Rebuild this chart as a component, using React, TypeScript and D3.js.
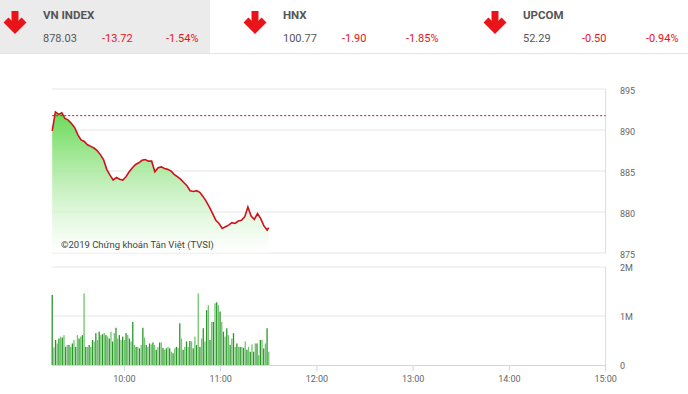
import React from "react";
import * as d3 from "d3";

// ---- data ----
const indexNames = ["VN INDEX", "HNX", "UPCOM"];
const indexValues = ["878.03", "100.77", "52.29"];
const indexChanges = ["-13.72", "-1.90", "-0.50"];
const indexPercents = ["-1.54%", "-1.85%", "-0.94%"];

const refValue = 891.75;
const priceStartMin = 9 * 60 + 15;
const priceStepMin = 2;
const priceValues = [
  889.9, 892.2, 891.9, 892.1, 891.4, 891.2, 890.8, 890.3, 889.4, 888.8,
  888.6, 888.2, 888.0, 887.8, 887.5, 887.0, 886.4, 885.2, 884.5, 883.9,
  884.2, 884.0, 883.9, 884.3, 884.9, 885.4, 885.8, 886.0, 886.3, 886.4,
  886.2, 886.2, 884.9, 885.4, 885.5, 885.3, 885.2, 885.0, 884.6, 884.3,
  884.0, 883.6, 883.2, 882.6, 882.5, 882.6, 882.4, 881.9, 881.3, 880.6,
  879.8, 879.0, 878.6, 878.0, 878.2, 878.4, 878.7, 878.6, 878.9, 879.0,
  879.4, 880.6, 879.5, 879.1, 879.8, 879.2, 878.3, 877.8, 878.1,
];
const priceEndMin = 11 * 60 + 30;

// volume in millions, one bar per interval from 9:15 to 11:30
const volumeValues = [
  1.43, 0.36, 0.51, 0.44, 0.54, 0.58, 0.56, 0.61, 0.37, 0.41, 0.41, 0.37, 0.44,
  0.51, 0.37, 0.61, 0.54, 0.58, 0.61, 1.46, 0.37, 0.37, 0.41, 0.37, 0.51, 0.48,
  0.65, 0.51, 0.68, 0.61, 0.63, 0.65, 0.61, 0.58, 0.54, 0.68, 0.48, 0.65, 0.76,
  0.54, 0.61, 0.51, 0.58,
  0.51, 0.65, 0.61, 0.54, 0.48, 0.88, 0.41, 0.37, 0.37, 0.34, 0.41, 0.76, 0.56,
  0.41, 0.37, 0.44, 0.42, 0.46, 0.41, 0.31, 0.37, 0.46, 0.46, 0.35, 0.31, 0.34,
  0.37, 0.34, 0.27, 0.24, 0.34, 0.37, 0.35, 0.85, 0.54, 0.31, 0.37, 0.48, 0.37,
  0.49, 0.48, 0.34, 0.58, 0.41,
  1.46, 0.37, 0.54, 0.75, 0.48, 1.12, 1.22, 0.51, 0.88, 0.88, 1.26, 1.28, 1.22,
  1.09, 0.88, 0.68, 0.58, 0.75, 0.61, 0.41, 0.54, 0.65, 0.37, 0.44, 0.37, 0.37,
  0.37, 0.35, 0.48, 0.31, 0.37, 0.27, 0.42, 0.27, 0.44, 0.44, 0.2, 0.51, 0.51,
  0.34, 0.44, 0.75, 0.27,
];

const priceTicks = [895, 890, 885, 880, 875];
const volumeTicks = [2, 1, 0];
const volumeTickLabels = ["2M", "1M", "0"];
const timeTicks = ["10:00", "11:00", "12:00", "13:00", "14:00", "15:00"];
const copyright = "©2019 Chứng khoán Tân Việt (TVSI)";

const toMin = (s: string) => {
  const [h, m] = s.split(":").map(Number);
  return h * 60 + m;
};

export default function App() {
  const W = 688;
  const H = 394;
  const left = 52.2;
  const right = 605.6;

  const x = d3.scaleLinear().domain([toMin("09:15"), toMin("15:00")]).range([left, right]);
  const yP = d3.scaleLinear().domain([875, 895]).range([253, 89]);
  const yV = d3.scaleLinear().domain([0, 2]).range([365, 267]);

  const pts = priceValues.map((v, i) => ({
    t: Math.min(priceStartMin + i * priceStepMin, priceEndMin),
    v,
  }));
  const line = d3.line<any>().x((d) => x(d.t)).y((d) => yP(d.v));
  const area = d3.area<any>().x((d) => x(d.t)).y0(yP(875)).y1((d) => yP(d.v));

  const n = volumeValues.length;
  const volT = (i: number) => priceStartMin + (i * (priceEndMin - priceStartMin)) / (n - 1);

  const font = "Roboto, 'Open Sans', Arial, sans-serif";
  const red = "#e8141a";
  const hdrX = [0, 240, 480];

  return (
    <svg
      width={W}
      height={H}
      style={{ position: "absolute", left: 0, top: 0, background: "#fff" }}
      fontFamily={font}
    >
      <defs>
        <linearGradient id="pg" x1="0" y1={yP(892)} x2="0" y2={yP(875)} gradientUnits="userSpaceOnUse">
          <stop offset="0" stopColor="#62d94f" stopOpacity={0.95} />
          <stop offset="0.45" stopColor="#a9e99e" stopOpacity={0.8} />
          <stop offset="1" stopColor="#ffffff" stopOpacity={0.6} />
        </linearGradient>
      </defs>

      {/* header */}
      <rect x={0} y={0} width={210} height={53} fill="#ebebeb" />
      <line x1={0} x2={W} y1={53.5} y2={53.5} stroke="#e3e3e3" />
      {indexNames.map((name, i) => {
        const bx = hdrX[i];
        const ax = bx + 15;
        return (
          <g key={name}>
            <g stroke={red} strokeWidth={7} fill="none" strokeLinejoin="miter">
              <line x1={ax} x2={ax} y1={11} y2={29} />
              <polyline points={`${ax - 9},${20} ${ax},${29} ${ax + 9},${20}`} />
            </g>
            <text x={bx + 43} y={19} fontSize={11.5} fontWeight="bold" fill="#555">
              {name}
            </text>
            <text x={bx + 43} y={42} fontSize={11} fill="#555">
              {indexValues[i]}
            </text>
            <text x={bx + 102} y={42} fontSize={11} fill={red}>
              {indexChanges[i]}
            </text>
            <text x={bx + 166} y={42} fontSize={11} fill={red}>
              {indexPercents[i]}
            </text>
          </g>
        );
      })}

      {/* price panel grid */}
      {priceTicks.map((t) => (
        <g key={t}>
          <line x1={left} x2={right} y1={yP(t)} y2={yP(t)} stroke="#e6e6e6" />
          <text x={620} y={yP(t) + 5} fontSize={9} fill="#666">
            {t}
          </text>
        </g>
      ))}
      <line x1={right} x2={right} y1={yP(895)} y2={yP(875)} stroke="#d4dce6" />

      <path d={area(pts) || ""} fill="url(#pg)" />
      <text x={61} y={248} fontSize={9.5} fill="#444">
        {copyright}
      </text>
      <line
        x1={left}
        x2={right}
        y1={yP(refValue)}
        y2={yP(refValue)}
        stroke="#c8141a"
        strokeWidth={1}
        strokeDasharray="2,2"
      />
      <path d={line(pts) || ""} fill="none" stroke="#d0111a" strokeWidth={1.6} />

      {/* volume panel */}
      {volumeTicks.map((t, i) => (
        <g key={t}>
          {t > 0 && <line x1={left} x2={right} y1={yV(t)} y2={yV(t)} stroke="#e6e6e6" />}
          <text x={620} y={yV(t) + 4} fontSize={9} fill="#666">
            {volumeTickLabels[i]}
          </text>
        </g>
      ))}
      <line x1={right} x2={right} y1={yV(2)} y2={yV(0)} stroke="#d4dce6" />
      {volumeValues.map((v, i) => (
        <rect
          key={i}
          x={x(volT(i)) - 0.65}
          y={yV(v)}
          width={1.3}
          height={yV(0) - yV(v)}
          fill={i % 2 === 0 ? "#2a962a" : "#72c46e"}
        />
      ))}
      <line x1={left} x2={right} y1={yV(0) + 0.5} y2={yV(0) + 0.5} stroke="#ccd6eb" />
      {timeTicks.map((t) => (
        <g key={t}>
          <line x1={x(toMin(t))} x2={x(toMin(t))} y1={yV(0)} y2={yV(0) + 6} stroke="#ccd6eb" />
          <text x={x(toMin(t))} y={382} fontSize={9} fill="#666" textAnchor="middle">
            {t}
          </text>
        </g>
      ))}
    </svg>
  );
}
